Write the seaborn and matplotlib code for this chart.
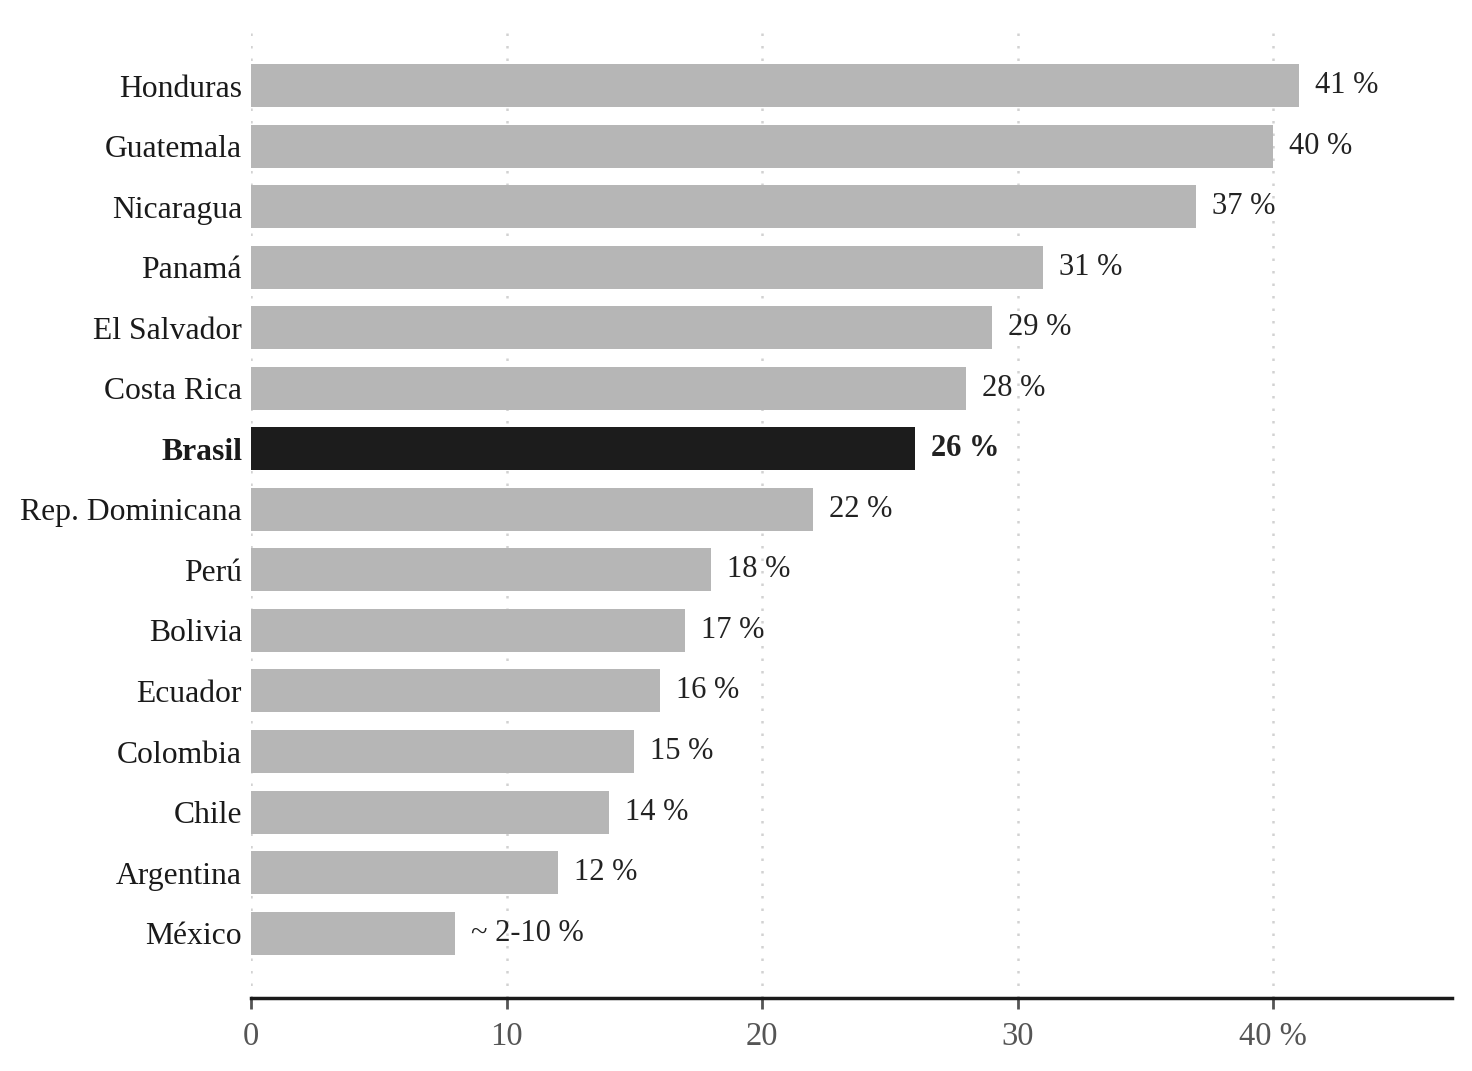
import pandas as pd
import matplotlib.pyplot as plt
import seaborn as sns

# data
countries = ['Honduras', 'Guatemala', 'Nicaragua', 'Panamá', 'El Salvador', 'Costa Rica',
             'Brasil', 'Rep. Dominicana', 'Perú', 'Bolivia', 'Ecuador', 'Colombia',
             'Chile', 'Argentina', 'México']
values = [41, 40, 37, 31, 29, 28, 26, 22, 18, 17, 16, 15, 14, 12, 8]
value_labels = ['41 %', '40 %', '37 %', '31 %', '29 %', '28 %', '26 %', '22 %', '18 %',
                '17 %', '16 %', '15 %', '14 %', '12 %', '~ 2-10 %']
xticks = [0, 10, 20, 30, 40]
xtick_labels = ['0', '10', '20', '30', '40 %']
highlight = 'Brasil'

df = pd.DataFrame({'country': countries, 'value': values})
palette = {c: ('#1c1c1c' if c == highlight else '#b6b6b6') for c in countries}

sns.set_style('white')
plt.rcParams['font.family'] = ['Liberation Serif', 'DejaVu Serif']

fig = plt.figure(figsize=(14.72, 10.71), dpi=100)
ax = fig.add_axes([0.1705, 0.0682, 0.8159, 0.9085])

ax.set_axisbelow(True)
ax.grid(axis='x', color='#d2d2d2', linestyle=(0, (1, 4)), linewidth=1.8)
sns.barplot(data=df, x='value', y='country', hue='country', palette=palette,
            legend=False, width=0.71, saturation=1, linewidth=0, ax=ax)

ax.set_xlim(0, 47)
ax.set_ylim(len(countries) - 1 + 1.07, -1.0)
ax.set_xticks(xticks)
ax.set_xticklabels(xtick_labels)
ax.set_xlabel('')
ax.set_ylabel('')

for i, (v, lab) in enumerate(zip(values, value_labels)):
    bold = countries[i] == highlight
    ax.annotate(lab, (v, i), xytext=(16, 0), textcoords='offset pixels',
                va='center', ha='left', fontsize=22,
                fontweight='bold' if bold else 'normal', color='#222222')

for spine in ['top', 'right', 'left']:
    ax.spines[spine].set_visible(False)
ax.spines['bottom'].set_color('#1a1a1a')
ax.spines['bottom'].set_linewidth(2.5)

ax.tick_params(axis='x', which='both', bottom=True, length=8, width=2,
               color='#555555', labelsize=23.5, labelcolor='#555555', pad=9)
ax.tick_params(axis='y', left=False, labelsize=22.8, labelcolor='#1a1a1a', pad=3)
for t in ax.get_yticklabels():
    if t.get_text() == highlight:
        t.set_fontweight('bold')

fig.savefig('out.png', dpi=100)
